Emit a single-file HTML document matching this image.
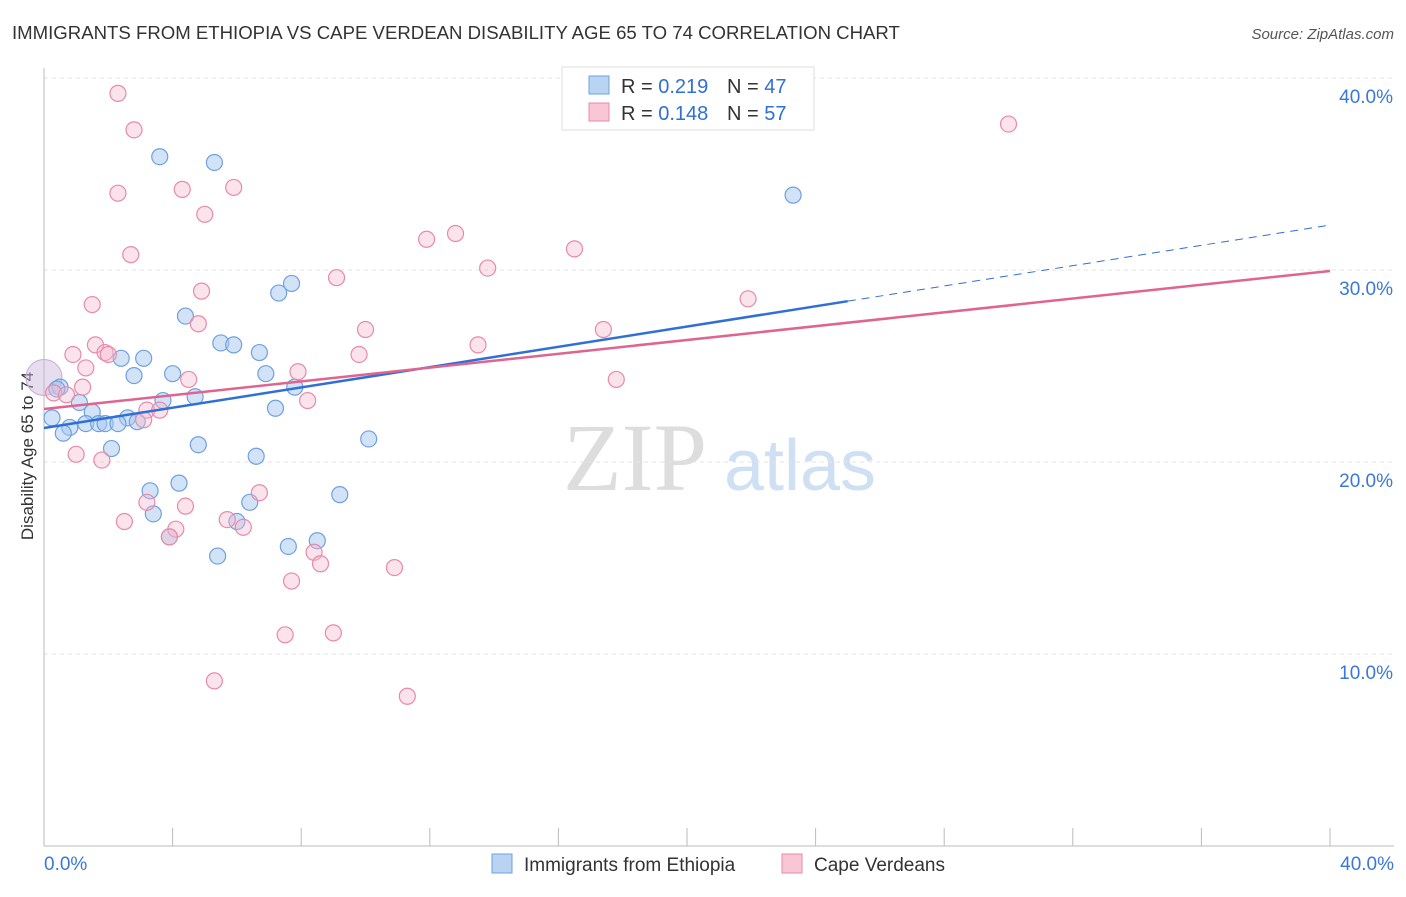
<!DOCTYPE html>
<html><head><meta charset="utf-8"><style>
body{margin:0;background:#fff;font-family:"Liberation Sans",sans-serif;}
</style></head><body>
<svg id="chart" width="1406" height="892" xmlns="http://www.w3.org/2000/svg" font-family="Liberation Sans, sans-serif">
<text x="12" y="39" font-size="18.6" fill="#333">IMMIGRANTS FROM ETHIOPIA VS CAPE VERDEAN DISABILITY AGE 65 TO 74 CORRELATION CHART</text>
<text x="1394" y="39" font-size="15" fill="#555" text-anchor="end" font-style="italic">Source: ZipAtlas.com</text>
<text transform="translate(33,456) rotate(-90)" font-size="17" fill="#333" text-anchor="middle">Disability Age 65 to 74</text>
<g><text x="635" y="490" font-size="96" fill="#ddd" font-family="Liberation Serif, serif" text-anchor="middle">ZIP</text><text x="800" y="490" font-size="72" fill="#cfe0f4" text-anchor="middle">atlas</text></g>
<g id="grid"></g><g id="axes"></g><g id="marks"></g>
<g>
<rect x="562" y="67" width="252" height="63" fill="#fff" stroke="#ddd"/>
<rect x="589" y="76" width="20" height="18" fill="#b9d3f3" stroke="#6fa0e0"/>
<text x="621" y="93" font-size="20" fill="#333">R = <tspan fill="#2f6fd6">0.219</tspan></text>
<text x="727" y="93" font-size="20" fill="#333">N = <tspan fill="#2f6fd6">47</tspan></text>
<rect x="589" y="103" width="20" height="18" fill="#f9c6d6" stroke="#e88aa8"/>
<text x="621" y="120" font-size="20" fill="#333">R = <tspan fill="#2f6fd6">0.148</tspan></text>
<text x="727" y="120" font-size="20" fill="#333">N = <tspan fill="#2f6fd6">57</tspan></text>
</g>
<g>
<rect x="492" y="854" width="20" height="19" fill="#b9d3f3" stroke="#6fa0e0"/>
<text x="524" y="871" font-size="19" fill="#333">Immigrants from Ethiopia</text>
<rect x="782" y="854" width="20" height="19" fill="#f9c6d6" stroke="#e88aa8"/>
<text x="814" y="871" font-size="19" fill="#333">Cape Verdeans</text>
</g>
</svg>
<script>
const yTicks=[10,20,30,40];
const xTickLabels=["0.0%","40.0%"];
const blueX=[3.6,5.3,23.3,7.7,7.3,4.4,5.5,5.9,6.7,2.4,3.1,4.0,2.8,6.9,0.5,0.4,7.8,4.7,3.7,1.1,1.5,0.25,2.6,7.2,1.3,1.7,1.9,2.3,2.9,0.8,0.6,10.1,4.8,2.1,6.6,4.2,3.3,3.4,6.4,6.0,3.9,7.6,8.5,5.4,9.2];
const blueY=[35.9,35.6,33.9,29.3,28.8,27.6,26.2,26.1,25.7,25.4,25.4,24.6,24.5,24.6,23.9,23.8,23.9,23.4,23.2,23.1,22.6,22.3,22.3,22.8,22.0,22.0,22.0,22.0,22.1,21.8,21.5,21.2,20.9,20.7,20.3,18.9,18.5,17.3,17.9,16.9,16.1,15.6,15.9,15.1,18.3];
const pinkX=[2.3,2.8,30.0,4.3,5.9,2.3,5.0,11.9,12.8,16.5,2.7,13.8,9.1,4.9,1.5,21.9,4.8,10.0,17.4,1.6,0.9,1.9,2.0,9.8,13.5,1.3,7.9,4.5,17.8,1.2,0.3,0.7,8.2,3.2,3.6,3.1,1.0,1.8,4.4,6.7,3.2,2.5,5.7,6.2,4.1,3.9,8.4,8.6,10.9,7.7,7.5,9.0,5.3,11.3];
const pinkY=[39.2,37.3,37.6,34.2,34.3,34.0,32.9,31.6,31.9,31.1,30.8,30.1,29.6,28.9,28.2,28.5,27.2,26.9,26.9,26.1,25.6,25.7,25.6,25.6,26.1,24.9,24.7,24.3,24.3,23.9,23.6,23.5,23.2,22.7,22.7,22.2,20.4,20.1,17.7,18.4,17.9,16.9,17.0,16.6,16.5,16.1,15.3,14.7,14.5,13.8,11.0,11.1,8.6,7.8];
const blueTrend=[21.77,32.34], blueSolidEnd=25.0;
const pinkTrend=[22.76,29.95];
const X=v=>44+v*32.15, Y=v=>846-v*19.2;
const NS="http://www.w3.org/2000/svg";
function mk(p,t,a){const e=document.createElementNS(NS,t);for(const k in a)e.setAttribute(k,a[k]);document.getElementById(p).appendChild(e);return e;}
yTicks.forEach(t=>{
const l=mk('grid','line',{x1:44,x2:1394,y1:Y(t),y2:Y(t),stroke:'#e3e3e3','stroke-dasharray':'4,4'});


const tx=mk('axes','text',{x:1393,y:Y(t)+25,'font-size':19,fill:'#3a78d8','text-anchor':'end'});tx.textContent=t.toFixed(1)+'%';


});
mk('axes','line',{x1:44,x2:44,y1:68,y2:846,stroke:'#bbb'});
mk('axes','line',{x1:44,x2:1394,y1:846,y2:846,stroke:'#bbb'});
for(let i=0;i<=10;i++){mk('axes','line',{x1:X(i*4),x2:X(i*4),y1:828,y2:846,stroke:'#bbb'});}
const x0=mk('axes','text',{x:44,y:870,'font-size':19,fill:'#3a78d8'});x0.textContent=xTickLabels[0];


const x1=mk('axes','text',{x:1394,y:870,'font-size':19,fill:'#3a78d8','text-anchor':'end'});x1.textContent=xTickLabels[1];


const big=mk('marks','circle',{cx:X(0),cy:Y(24.4),r:18,fill:'rgba(200,180,220,0.45)',stroke:'#c9a8d8'});


blueX.forEach((v,i)=>{const c=mk('marks','circle',{cx:X(v),cy:Y(blueY[i]),r:8,fill:'rgba(168,200,240,0.5)',stroke:'#6fa0e0','stroke-width':1.2});

});
pinkX.forEach((v,i)=>{const c=mk('marks','circle',{cx:X(v),cy:Y(pinkY[i]),r:8,fill:'rgba(245,184,204,0.4)',stroke:'#e88aa8','stroke-width':1.2});

});
const by=x=>blueTrend[0]+(blueTrend[1]-blueTrend[0])*x/40;
const bl=mk('marks','line',{x1:X(0),y1:Y(by(0)),x2:X(blueSolidEnd),y2:Y(by(blueSolidEnd)),stroke:'#2f6fd6','stroke-width':2.5});


const bd=mk('marks','line',{x1:X(blueSolidEnd),y1:Y(by(blueSolidEnd)),x2:X(40),y2:Y(by(40)),stroke:'#2f6fd6','stroke-width':1,'stroke-dasharray':'8,6'});


const pl=mk('marks','line',{x1:X(0),y1:Y(pinkTrend[0]),x2:X(40),y2:Y(pinkTrend[1]),stroke:'#e0648f','stroke-width':2.5});


</script>
</body></html>
